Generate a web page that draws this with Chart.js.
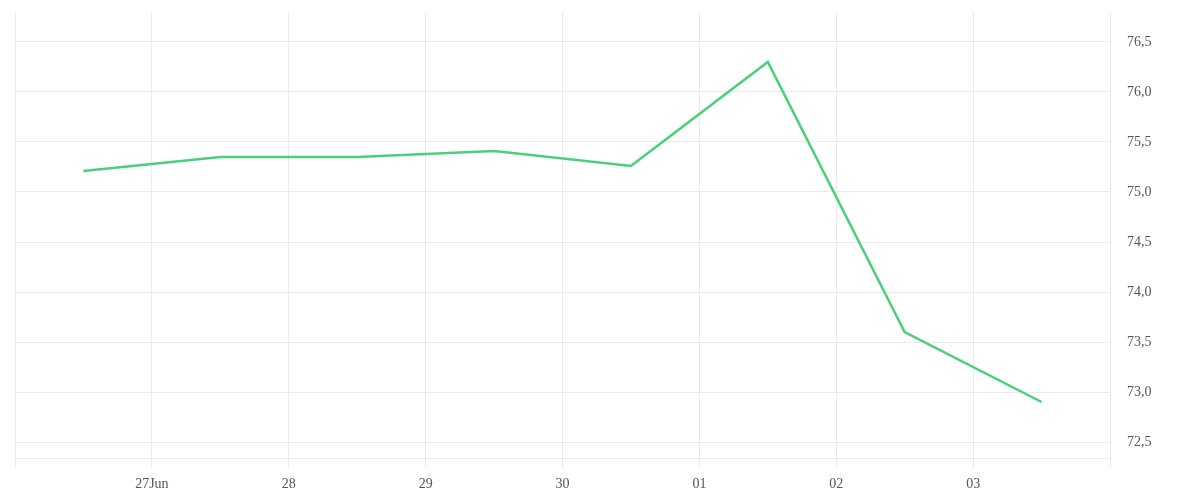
<!DOCTYPE html>
<html>
<head>
<meta charset="utf-8">
<script src="https://cdn.jsdelivr.net/npm/chart.js@4"></script>
<style>
  html, body { margin: 0; padding: 0; background: #ffffff; }
  #wrap { width: 1200px; height: 500px; position: relative; }
</style>
</head>
<body>
<div id="wrap"><canvas id="c"></canvas></div>
<script>
// Day tick labels (gridlines at day boundaries; first/last boundary unlabeled)
const tickLabels = ['', '27Jun', '28', '29', '30', '01', '02', '03', ''];
// One value per day, plotted at mid-day between boundaries
const values = [75.21, 75.35, 75.35, 75.41, 75.26, 76.30, 73.60, 72.90];

const points = values.map((v, i) => ({ x: i + 0.5, y: v }));

const gridColor = '#ebebeb';
const textColor = '#555555';
const font = { family: '"Liberation Serif", "DejaVu Serif", serif', size: 14 };

new Chart(document.getElementById('c'), {
  type: 'line',
  data: {
    datasets: [{
      data: points,
      borderColor: '#4ad07a',
      borderWidth: 2.5,
      pointRadius: 0,
      pointHoverRadius: 0,
      tension: 0,
      fill: false
    }]
  },
  options: {
    responsive: true,
    maintainAspectRatio: false,
    animation: false,
    layout: { padding: { left: 15, top: 12, right: 0, bottom: 0 } },
    plugins: { legend: { display: false }, tooltip: { enabled: false } },
    scales: {
      x: {
        type: 'linear',
        min: 0,
        max: tickLabels.length - 1,
        afterFit: s => { s.height = 42; s.paddingLeft = 0; s.paddingRight = 0; },
        afterBuildTicks: s => {
          s.ticks = tickLabels.map((_, i) => ({ value: i }));
        },
        ticks: {
          autoSkip: false,
          maxRotation: 0,
          padding: 8,
          color: textColor,
          font: font,
          callback: (v) => tickLabels[Math.round(v)]
        },
        grid: { color: gridColor, tickLength: 10, drawTicks: true },
        border: { color: gridColor }
      },
      y: {
        position: 'right',
        min: 72.34,
        max: 76.8,
        afterFit: s => { s.width = 90; s.paddingTop = 0; s.paddingBottom = 0; },
        ticks: {
          stepSize: 0.5,
          includeBounds: false,
          padding: 17,
          color: textColor,
          font: font,
          callback: (v) => Number(v).toFixed(1).replace('.', ',')
        },
        grid: { color: gridColor, drawTicks: false },
        border: { color: gridColor }
      }
    }
  }
});
</script>
</body>
</html>
